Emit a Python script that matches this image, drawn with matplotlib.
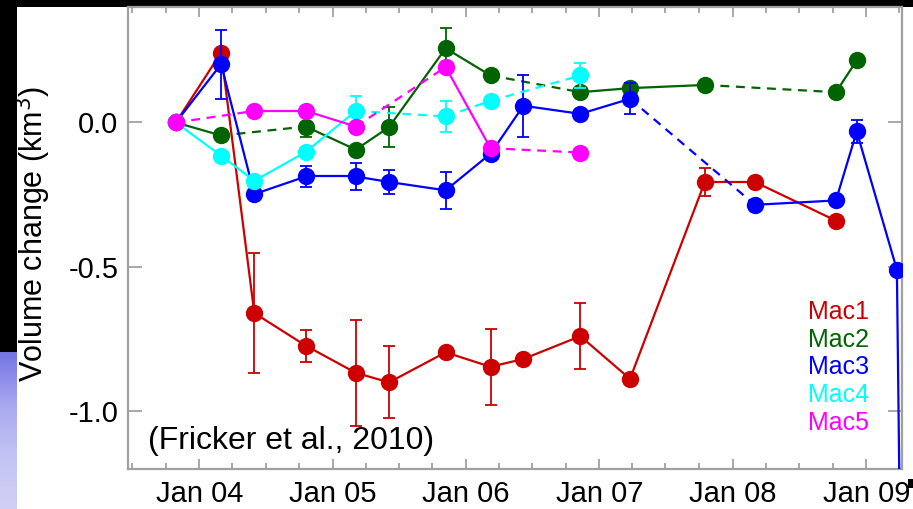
import matplotlib
matplotlib.use('Agg')
import matplotlib.pyplot as plt
import matplotlib.dates as mdates
from matplotlib.patches import Rectangle
from matplotlib.colors import LinearSegmentedColormap
import numpy as np
import pandas as pd

plt.rcParams['font.family'] = ['Liberation Sans', 'DejaVu Sans']
plt.rcParams['axes.unicode_minus'] = False

# ICESat campaign dates
campaigns = ['2003-10-29', '2004-03-01', '2004-05-31', '2004-10-19', '2005-03-05',
             '2005-06-04', '2005-11-06', '2006-03-09', '2006-06-07', '2006-11-10',
             '2007-03-26', '2007-10-17', '2008-03-02', '2008-10-10', '2008-12-06',
             '2009-03-26', '2009-05-01']

names = ['Mac1', 'Mac2', 'Mac3', 'Mac4', 'Mac5']

mac1_idx = [0, 1, 2, 3, 4, 5, 6, 7, 8, 9, 10, 11, 12, 13]
mac1_values = [0.0, 0.242, -0.660, -0.773, -0.867, -0.900, -0.796, -0.846, -0.819,
               -0.740, -0.888, -0.206, -0.206, -0.340]
mac1_err = [0, 0, 0.207, 0.056, 0.183, 0.125, 0, 0.132, 0, 0.114, 0, 0.050, 0, 0]
mac1_styles = ['-'] * 13

mac2_idx = [0, 1, 3, 4, 5, 6, 7, 9, 10, 11, 13, 14]
mac2_values = [0.0, -0.045, -0.014, -0.094, -0.016, 0.257, 0.163, 0.105, 0.119,
               0.130, 0.105, 0.215]
mac2_err = [0, 0, 0.037, 0, 0.068, 0.069, 0, 0, 0, 0, 0, 0]
mac2_styles = ['-', '--', '-', '-', '-', '-', '--', '-', '-', '--', '-']

mac3_idx = [0, 1, 2, 3, 4, 5, 6, 7, 8, 9, 10, 12, 13, 14, 15, 16]
mac3_values = [0.0, 0.202, -0.248, -0.187, -0.187, -0.206, -0.235, -0.108, 0.058,
               0.030, 0.082, -0.285, -0.270, -0.031, -0.510, -4.4]
mac3_err = [0, 0.119, 0, 0.035, 0.047, 0.042, 0.063, 0, 0.107, 0, 0.054, 0, 0,
            0.040, 0, 0]
mac3_styles = ['-', '-', '-', '-', '-', '-', '-', '-', '-', '-', '--', '-', '-', '-', '-']

mac4_idx = [0, 1, 2, 3, 4, 6, 7, 9]
mac4_values = [0.0, -0.115, -0.202, -0.102, 0.040, 0.021, 0.075, 0.163]
mac4_err = [0, 0, 0, 0, 0.052, 0.055, 0, 0.043]
mac4_styles = ['-', '-', '-', '-', '--', '--', '--']

mac5_idx = [0, 2, 3, 4, 6, 7, 9]
mac5_values = [0.0, 0.040, 0.040, -0.014, 0.192, -0.089, -0.104]
mac5_err = [0, 0, 0, 0, 0, 0, 0]
mac5_styles = ['--', '-', '-', '--', '-', '--']

colors = ['#CC0000', '#006400', '#0000FF', '#00FFFF', '#FF00FF']

series = [
    (mac1_idx, mac1_values, mac1_err, mac1_styles),
    (mac2_idx, mac2_values, mac2_err, mac2_styles),
    (mac3_idx, mac3_values, mac3_err, mac3_styles),
    (mac4_idx, mac4_values, mac4_err, mac4_styles),
    (mac5_idx, mac5_values, mac5_err, mac5_styles),
]

W, H = 913, 509
fig = plt.figure(figsize=(W / 100, H / 100), dpi=100)
fig.patch.set_facecolor('white')

# slide background remnants
fig.add_artist(Rectangle((0, 1 - 7 / H), 1, 7 / H, transform=fig.transFigure,
                         facecolor='black', edgecolor='none', zorder=0))
fig.add_artist(Rectangle((0, (H - 352) / H), 16.5 / W, 352 / H, transform=fig.transFigure,
                         facecolor='black', edgecolor='none', zorder=0))
bg_ax = fig.add_axes([0, 0, 16.5 / W, (H - 352) / H])
grad = np.linspace(0, 1, 100)[:, None]
cmap = LinearSegmentedColormap.from_list('lav', ['#7474E4', '#A8A8F0', '#C4C4F4', '#D0D0F4'])
bg_ax.imshow(grad, aspect='auto', cmap=cmap, extent=[0, 1, 0, 1], origin='upper')
bg_ax.set_axis_off()
fig.add_artist(Rectangle((908 / W, 1 - 488 / H), 5 / W, 9 / H, transform=fig.transFigure,
                         facecolor='black', edgecolor='none', zorder=0))

ax = fig.add_axes([128 / W, 40 / H, 774 / W, 462 / H])
dates = pd.to_datetime(campaigns)

for k, (idx, vals, errs, styles) in enumerate(series):
    c = colors[k]
    d = dates[idx]
    v = np.array(vals)
    e = np.array(errs)
    z = 3 + k
    for i in range(len(d) - 1):
        ax.plot([d[i], d[i + 1]], [v[i], v[i + 1]], color=c, lw=1.6,
                linestyle=(0, (4, 3)) if styles[i] == '--' else '-', zorder=z)
    m = e > 0
    if m.any():
        ax.errorbar(d[m], v[m], yerr=e[m], fmt='none', ecolor=c, elinewidth=1.3,
                    capsize=4.5, capthick=1.3, zorder=z)
    ax.plot(d, v, 'o', color=c, markersize=12.5, markeredgewidth=0, zorder=z + 0.5)

ax.set_xlim(pd.Timestamp('2003-06-20'), pd.Timestamp('2009-04-09'))
ax.set_ylim(-1.2, 0.4)
ax.set_yticks([-1.0, -0.5, 0.0])
ax.set_yticklabels(['-1.0', '-0.5', '0.0'])
ax.xaxis.set_major_locator(mdates.YearLocator())
ax.xaxis.set_minor_locator(mdates.MonthLocator(bymonth=[1, 4, 7, 10]))
ax.xaxis.set_major_formatter(mdates.DateFormatter('%b %y'))

for s in ax.spines.values():
    s.set_color('#A0A0A0')
    s.set_linewidth(1.6)
ax.tick_params(axis='both', which='both', direction='in', top=True, right=True,
               color='#999999', width=1.2)
ax.tick_params(axis='x', which='major', length=7, labelsize=21, pad=8)
ax.tick_params(axis='x', which='minor', length=4.5)
ax.tick_params(axis='y', which='major', length=10, labelsize=21, pad=7)

for k, name in enumerate(names):
    ax.text(0.8786, 0.3398 - k * 0.0600, name, color=colors[k], fontsize=18,
            transform=ax.transAxes, ha='left', va='center')

ax.text(0.0258, 0.0606, '(Fricker et al., 2010)', fontsize=23, color='black',
        transform=ax.transAxes, ha='left', va='center')

fig.text(33 / W, 1 - 234 / H, 'Volume change (km$^3$)', rotation=90, fontsize=22,
         ha='center', va='center')

fig.savefig('out.png', dpi=100)
